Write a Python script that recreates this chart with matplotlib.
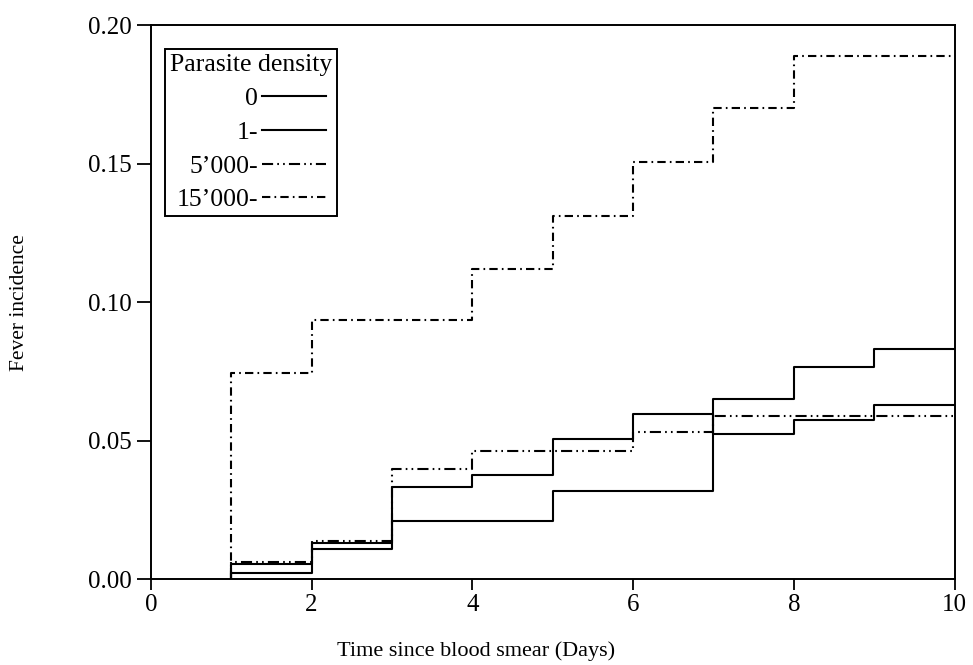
import matplotlib
matplotlib.use("Agg")
import matplotlib.pyplot as plt

# Datos (incidencia acumulada, escalones desde el dia 1)
days = [1, 2, 3, 4, 5, 6, 7, 8, 9, 10]
dens_0 = [0.0023, 0.0108, 0.021, 0.021, 0.032, 0.032, 0.0652, 0.0766, 0.083]
dens_1 = [0.0054, 0.013, 0.0333, 0.0377, 0.0506, 0.0595, 0.0524, 0.0575, 0.0628]
dens_5000 = [0.0062, 0.0139, 0.0399, 0.0464, 0.0464, 0.053, 0.059, 0.059, 0.059]
dens_15000 = [0.0745, 0.0935, 0.0935, 0.112, 0.131, 0.1505, 0.170, 0.189, 0.189]

labels = ["0", "1-", "5\u2019000-", "15\u2019000-"]
styles = ["-", "-", (0, (8, 3, 1.2, 3, 1.2, 3)), (0, (6, 3, 1.2, 3))]

plt.rcParams["font.family"] = ["Liberation Serif", "DejaVu Serif"]
plt.rcParams["lines.scale_dashes"] = False

fig = plt.figure(figsize=(9.73, 6.65), dpi=100)
ax = fig.add_axes([0.155, 0.129, 0.826, 0.833])

for vals, lab, ls in zip([dens_0, dens_1, dens_5000, dens_15000], labels, styles):
    # empezar en cero el dia 1 y alargar el ultimo valor hasta el dia 10
    x = [days[0]] + days
    y = [0.0] + vals + [vals[-1]]
    ax.step(x, y, where="post", color="black", linewidth=1.5, linestyle=ls, label=lab)

ax.set_xlim(0, 10)
ax.set_ylim(0, 0.20)
ax.set_xticks([0, 2, 4, 6, 8, 10])
ax.set_yticks([0.0, 0.05, 0.10, 0.15, 0.20])
ax.set_yticklabels(["0.00", "0.05", "0.10", "0.15", "0.20"])
ax.tick_params(axis="x", direction="out", length=8, width=1.3, pad=3, labelsize=18)
ax.tick_params(axis="y", direction="out", length=10, width=1.3, pad=4, labelsize=18)
for s in ax.spines.values():
    s.set_linewidth(1.4)

ax.set_xlabel("Time since blood smear (Days)", fontsize=16)
ax.set_ylabel("Fever incidence", fontsize=15.5)
ax.xaxis.set_label_coords(0.405, -0.112)
ax.yaxis.set_label_coords(-0.152, 0.5)

leg = ax.legend(title="Parasite density", loc="upper left",
                bbox_to_anchor=(0.0174, 0.957), borderaxespad=0,
                markerfirst=False, fancybox=False, fontsize=18.5,
                title_fontsize=18.5, handlelength=2.5, handletextpad=0.15,
                labelspacing=0.42, borderpad=0.2, frameon=True)
leg.get_frame().set_edgecolor("black")
leg.get_frame().set_linewidth(1.4)
leg.get_frame().set_alpha(1)

plt.savefig("out.png", dpi=100)
